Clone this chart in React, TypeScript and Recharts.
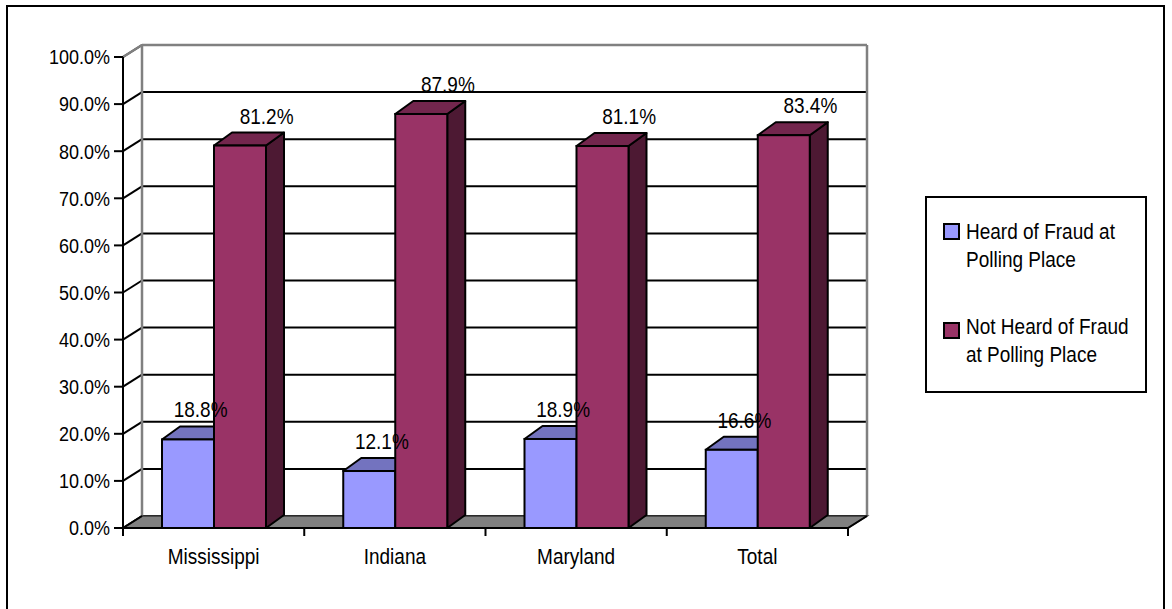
import React from 'react';
import {
  ComposedChart,
  Bar,
  Line,
  XAxis,
  YAxis,
  CartesianGrid,
  ReferenceArea,
  Legend,
} from 'recharts';

// ---------- data ----------
const categories = ['Mississippi', 'Indiana', 'Maryland', 'Total'];
const heardValues = [18.8, 12.1, 18.9, 16.6];
const notHeardValues = [81.2, 87.9, 81.1, 83.4];
const yTicks = [0, 10, 20, 30, 40, 50, 60, 70, 80, 90, 100];
const seriesNames = ['Heard of Fraud at Polling Place', 'Not Heard of Fraud at Polling Place'];
const legendLines = [
  ['Heard of Fraud at', 'Polling Place'],
  ['Not Heard of Fraud', 'at Polling Place'],
];

const data = categories.map((c, i) => ({
  category: c,
  heard: heardValues[i],
  notHeard: notHeardValues[i],
}));

// ---------- style ----------
const FONT = '"Liberation Sans", Arial, Helvetica, sans-serif';
const STRETCH = 1.15;
const BLUE = { front: '#9999FF', top: '#7373BF', side: '#4D4D80' };
const RED = { front: '#993366', top: '#73264D', side: '#4D1933' };
const WALL_DX = 19;
const WALL_DY = 12;
const BAR_DX = 18;
const BAR_DY = 13;
const WALL_GRAY = '#808080';

const make3DBar = (c: typeof BLUE) => (props: any) => {
  const { x, y, width, height } = props;
  if (x == null || y == null) return <g />;
  const r = x + width;
  const b = y + height;
  return (
    <g>
      <polygon
        points={`${r},${b} ${r},${y} ${r + BAR_DX},${y - BAR_DY} ${r + BAR_DX},${b - BAR_DY}`}
        fill={c.side}
        stroke="#000"
        strokeWidth={2}
        strokeLinejoin="round"
      />
      <polygon
        points={`${x},${y} ${x + BAR_DX},${y - BAR_DY} ${r + BAR_DX},${y - BAR_DY} ${r},${y}`}
        fill={c.top}
        stroke="#000"
        strokeWidth={2}
        strokeLinejoin="round"
      />
      <rect x={x} y={y} width={width} height={height} fill={c.front} stroke="#000" strokeWidth={2} />
    </g>
  );
};

const blueBar = make3DBar(BLUE);
const redBar = make3DBar(RED);

const StretchText = ({ x, y, anchor, size, children, dy }: any) => (
  <text
    transform={`translate(${x},${y}) scale(1,${STRETCH})`}
    x={0}
    y={0}
    dy={dy}
    textAnchor={anchor}
    fontSize={size}
    fontFamily={FONT}
    fill="#000"
  >
    {children}
  </text>
);

const makeLabel = (dx: number) => (props: any) => {
  const vb = props.viewBox || {};
  const px = props.x ?? vb.x;
  const py = props.y ?? vb.y;
  const v = props.value;
  if (px == null || py == null || v == null) return <g />;
  return (
    <g key={`lbl-${props.index}-${dx}`}>
      <StretchText x={px + dx} y={py - 22} anchor="middle" size={19}>
        {Number(v).toFixed(1)}%
      </StretchText>
    </g>
  );
};

const gridLine = (props: any) => {
  const { x1, x2, y1, key } = props;
  return (
    <g key={key}>
      <line x1={x1} y1={y1} x2={x1 + WALL_DX} y2={y1 - WALL_DY} stroke="#000" strokeWidth={2} />
      <line x1={x1 + WALL_DX} y1={y1 - WALL_DY} x2={x2 + WALL_DX} y2={y1 - WALL_DY} stroke="#000" strokeWidth={2} />
    </g>
  );
};

const renderWalls = (p: any) => {
  const { x, y, width, height } = p;
  if (x == null) return <g />;
  const left = x;
  const right = x + width;
  const top = y;
  const bottom = y + height;
  const bl = left + WALL_DX;
  const br = right + WALL_DX;
  const bt = top - WALL_DY;
  const bb = bottom - WALL_DY;
  const n = categories.length;
  const step = width / n;
  const ticks = [];
  for (let i = 0; i <= n; i++) {
    const tx = left + i * step;
    ticks.push(<line key={`xt-${i}`} x1={tx} y1={bottom} x2={tx} y2={bottom + 8} stroke="#000" strokeWidth={2} />);
  }
  return (
    <g>
      <line x1={bl} y1={bt} x2={bl} y2={bb} stroke={WALL_GRAY} strokeWidth={2.5} />
      <line x1={bl} y1={bt} x2={br} y2={bt} stroke={WALL_GRAY} strokeWidth={2.5} />
      <line x1={br} y1={bt} x2={br} y2={bb} stroke={WALL_GRAY} strokeWidth={2.5} />
      <line x1={left} y1={top} x2={bl} y2={bt} stroke={WALL_GRAY} strokeWidth={2.5} />
      <polygon
        points={`${left},${bottom} ${bl},${bb} ${br},${bb} ${right},${bottom}`}
        fill="#808080"
        stroke="#3a3a3a"
        strokeWidth={1.5}
      />
      <line x1={left} y1={bottom} x2={bl} y2={bb} stroke="#000" strokeWidth={2} />
      <line x1={right} y1={bottom} x2={br} y2={bb} stroke="#000" strokeWidth={2} />
      {ticks}
    </g>
  );
};

const renderXTick = (props: any) => {
  const { x, y, payload } = props;
  return (
    <StretchText x={x} y={y + 28} anchor="middle" size={19}>
      {payload.value}
    </StretchText>
  );
};

const renderYTick = (props: any) => {
  const { x, y, payload } = props;
  return (
    <StretchText x={x} y={y} anchor="end" size={18} dy="0.355em">
      {`${Number(payload.value).toFixed(1)}%`}
    </StretchText>
  );
};

const renderLegend = () => {
  const colors = [BLUE.front, RED.front];
  const squareTops = [25, 124];
  const textTops = [19.5, 114.5];
  return (
    <div
      style={{
        boxSizing: 'border-box',
        width: 222,
        height: 197,
        border: '2px solid #000',
        background: '#fff',
        position: 'relative',
        fontFamily: FONT,
        fontSize: 19,
        color: '#000',
      }}
    >
      {seriesNames.map((name, i) => (
        <React.Fragment key={name}>
          <div
            style={{
              position: 'absolute',
              left: 16,
              top: squareTops[i],
              width: 17,
              height: 17,
              boxSizing: 'border-box',
              border: '2px solid #000',
              background: colors[i],
            }}
          />
          <div
            style={{
              position: 'absolute',
              left: 39,
              top: textTops[i],
              lineHeight: '28.5px',
              whiteSpace: 'nowrap',
            }}
          >
            {legendLines[i].map((l) => (
              <div key={l} style={{ transform: `scaleY(${STRETCH})`, transformOrigin: 'center' }}>
                {l}
              </div>
            ))}
          </div>
        </React.Fragment>
      ))}
    </div>
  );
};

export default function App() {
  return (
    <div
      style={{
        position: 'absolute',
        left: 0,
        top: 0,
        width: 1172,
        height: 609,
        overflow: 'hidden',
        background: '#fff',
      }}
    >
      <div
        style={{
          position: 'absolute',
          left: 6,
          top: 5,
          width: 1159,
          height: 700,
          boxSizing: 'border-box',
          border: '2px solid #000',
        }}
      />
      <div style={{ position: 'absolute', left: 0, top: 0 }}>
        <ComposedChart
          width={1172}
          height={609}
          data={data}
          margin={{ top: 57, right: 324, bottom: 0, left: 0 }}
          barGap={0}
        >
          <CartesianGrid horizontal={gridLine} vertical={false} />
          <XAxis
            dataKey="category"
            height={81}
            axisLine={{ stroke: '#000', strokeWidth: 2 }}
            tickLine={false}
            tickSize={8}
            tickMargin={0}
            tick={renderXTick}
            interval={0}
          />
          <YAxis
            width={123}
            domain={[0, 100]}
            ticks={yTicks}
            interval={0}
            axisLine={{ stroke: '#000', strokeWidth: 2 }}
            tickLine={{ stroke: '#000', strokeWidth: 2 }}
            tickSize={9}
            tickMargin={4}
            tick={renderYTick}
          />
          <ReferenceArea y1={0} y2={100} shape={renderWalls} />
          <Bar dataKey="heard" name={seriesNames[0]} barSize={52} shape={blueBar} isAnimationActive={false} />
          <Bar dataKey="notHeard" name={seriesNames[1]} barSize={52} shape={redBar} isAnimationActive={false} />
          <Line
            dataKey="heard"
            stroke="none"
            dot={false}
            activeDot={false}
            legendType="none"
            label={makeLabel(-13)}
            isAnimationActive={false}
          />
          <Line
            dataKey="notHeard"
            stroke="none"
            dot={false}
            activeDot={false}
            legendType="none"
            label={makeLabel(53)}
            isAnimationActive={false}
          />
          <Legend
            layout="horizontal"
            verticalAlign="middle"
            align="center"
            wrapperStyle={{ left: 925, top: 196, width: 222, height: 197 }}
            content={renderLegend}
          />
        </ComposedChart>
      </div>
    </div>
  );
}
